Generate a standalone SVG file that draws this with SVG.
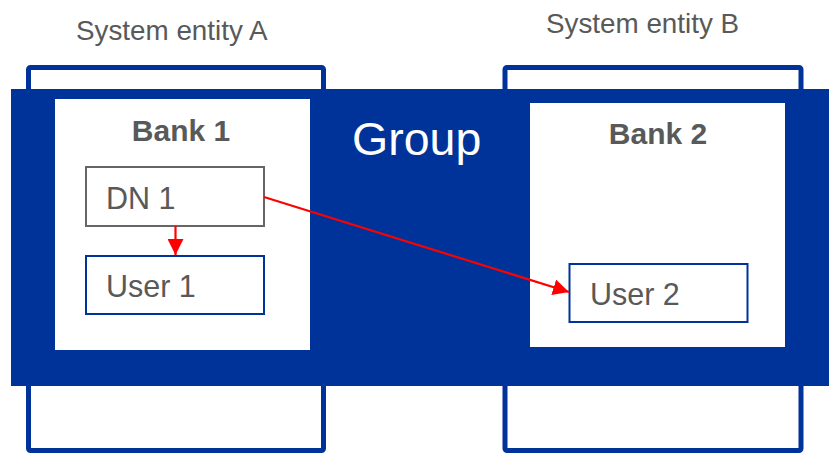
<svg xmlns="http://www.w3.org/2000/svg" width="829" height="454" viewBox="0 0 829 454">
<style>
  text { font-family: "Liberation Sans", Arial, sans-serif; }
  .entity { fill: #ffffff; stroke: #003399; stroke-width: 5; }
  .bank { fill: #ffffff; }
  .label { fill: #595959; font-size: 27.8px; }
  .bankt { fill: #595959; font-size: 30px; font-weight: bold; text-anchor: middle; }
  .nodet { fill: #595959; font-size: 30.5px; }
  .dn { fill: #ffffff; stroke: #666666; stroke-width: 2; }
  .user { fill: #ffffff; stroke: #003399; stroke-width: 2; }
  .conn { stroke: #ff0000; stroke-width: 2.2; fill: none; }
</style>
<defs>
  <marker id="arrowBig" markerWidth="16" markerHeight="16" refX="16" refY="8" orient="auto" markerUnits="userSpaceOnUse" viewBox="0 0 16 16">
    <path d="M0,0 L16,8 L0,16 Z" fill="#ff0000"/>
  </marker>
</defs>
<g id="entityA">
  <rect class="entity" x="28.5" y="67.5" width="295" height="383" rx="2"/>
  <text class="label" x="76" y="40">System entity A</text>
</g>
<g id="entityB">
  <rect class="entity" x="505" y="67.5" width="296" height="383" rx="2"/>
  <text class="label" x="546" y="33">System entity B</text>
</g>
<g id="group">
  <rect x="11" y="89" width="818" height="297" fill="#003399"/>
  <text x="352" y="155" fill="#ffffff" font-size="46.5">Group</text>
</g>
<g id="bank1">
  <rect class="bank" x="55" y="99" width="255" height="251"/>
  <text class="bankt" x="181" y="141">Bank 1</text>
</g>
<g id="bank2">
  <rect class="bank" x="530" y="103" width="255" height="244"/>
  <text class="bankt" x="658" y="144">Bank 2</text>
</g>
<g id="dn1">
  <rect class="dn" x="86" y="167" width="178" height="59"/>
  <text class="nodet" x="106" y="209">DN 1</text>
</g>
<g id="user1">
  <rect class="user" x="86" y="256" width="178" height="58"/>
  <text class="nodet" x="106" y="297">User 1</text>
</g>
<g id="user2">
  <rect class="user" x="569.5" y="264" width="178" height="58"/>
  <text class="nodet" x="590" y="305">User 2</text>
</g>
<g id="connectors">
  <line class="conn" x1="175.5" y1="226" x2="175.5" y2="255" marker-end="url(#arrowBig)"/>
  <line class="conn" x1="264" y1="197" x2="569" y2="292" marker-end="url(#arrowBig)"/>
</g>
</svg>
